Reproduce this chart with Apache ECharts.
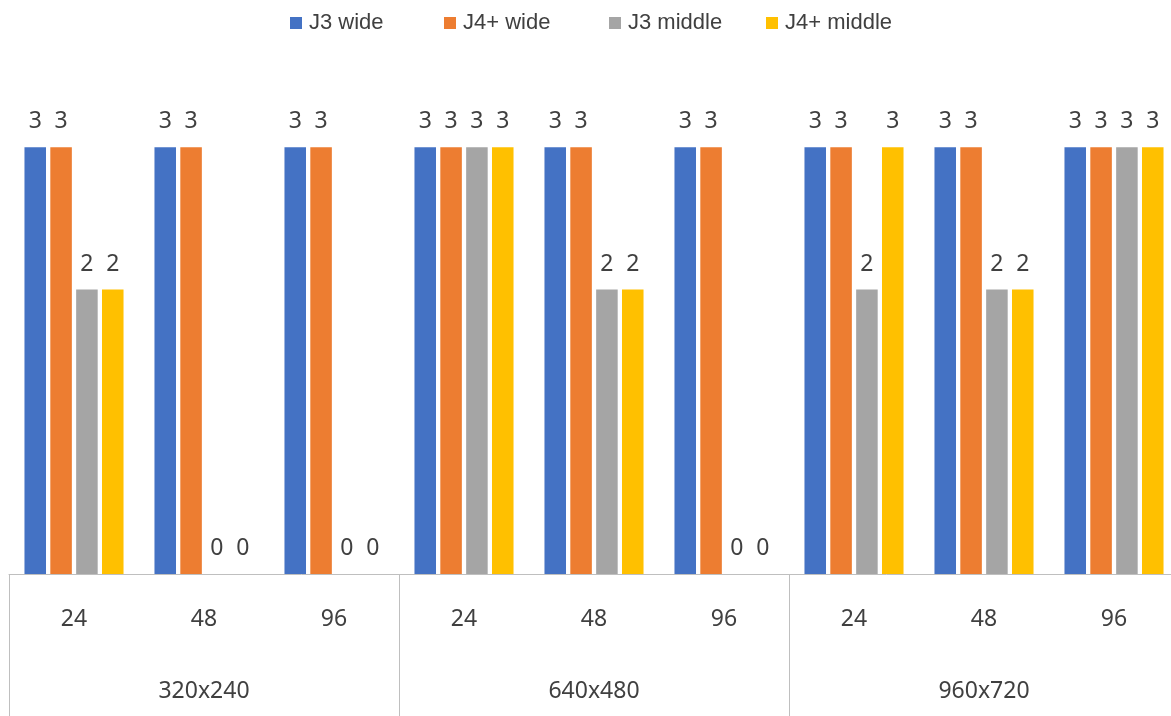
<!DOCTYPE html>
<html><head><meta charset="utf-8">
<script src="https://cdn.jsdelivr.net/npm/echarts@6/dist/echarts.min.js"></script>
<style>html,body{margin:0;padding:0;background:#fff;overflow:hidden}#c{width:1180px;height:716px}</style>
</head><body><div id="c"></div>
<script>
const resolutions = ['320x240', '640x480', '960x720'];
const sizes = ['24', '48', '96', '24', '48', '96', '24', '48', '96'];
const seriesNames = ['J3 wide', 'J4+ wide', 'J3 middle', 'J4+ middle'];
const j3Wide   = [3, 3, 3, 3, 3, 3, 3, 3, 3];
const j4Wide   = [3, 3, 3, 3, 3, 3, 3, 3, 3];
const j3Middle = [2, 0, 0, 3, 2, 0, 2, 2, 3];
const j4Middle = [2, 0, 0, 3, 2, 0, 3, 2, 3];
const seriesValues = [j3Wide, j4Wide, j3Middle, j4Middle];
const colors = ['#4472C4', '#ED7D31', '#A5A5A5', '#FFC000'];

const legendLeft = [290, 444, 609, 766];
const FONT = '"Noto Sans", "Open Sans", sans-serif';

const chart = echarts.init(document.getElementById('c'), null, {renderer: 'canvas'});
chart.setOption({
  animation: false,
  backgroundColor: '#ffffff',
  color: colors,
  legend: seriesNames.map((n, i) => ({
    data: [n],
    left: legendLeft[i],
    top: 12,
    padding: 0,
    itemWidth: 12,
    itemHeight: 12,
    icon: 'rect',
    selectedMode: false,
    textStyle: {fontFamily: '"Liberation Sans", Arial, sans-serif', fontSize: 22, color: '#404040', padding: [0, 0, 0, 2], lineHeight: 22}
  })),
  grid: {left: 9, right: 1, top: 5, bottom: 142, containLabel: false},
  xAxis: [
    {
      type: 'category',
      data: sizes,
      position: 'bottom',
      axisLine: {show: true, lineStyle: {color: '#BFBFBF', width: 1}},
      axisTick: {show: false},
      axisLabel: {fontFamily: FONT, fontSize: 23, color: '#404040', margin: 34, interval: 0}
    },
    {
      type: 'category',
      data: resolutions,
      position: 'bottom',
      offset: 0,
      axisLine: {show: false},
      axisTick: {show: true, interval: 0, length: 150, lineStyle: {color: '#BFBFBF', width: 1}},
      axisLabel: {fontFamily: FONT, fontSize: 23, color: '#404040', margin: 106, interval: 0}
    }
  ],
  yAxis: {
    type: 'value', min: 0, max: 4, interval: 1,
    show: false, splitLine: {show: false}
  },
  series: seriesNames.map((n, i) => ({
    name: n,
    type: 'bar',
    xAxisIndex: 0,
    data: seriesValues[i],
    barGap: '20%',
    barCategoryGap: '23.8%',
    itemStyle: {color: colors[i]},
    label: {
      show: true, position: 'top', distance: 14,
      fontFamily: FONT, fontSize: 23, color: '#404040'
    }
  }))
});
</script>
</body></html>
